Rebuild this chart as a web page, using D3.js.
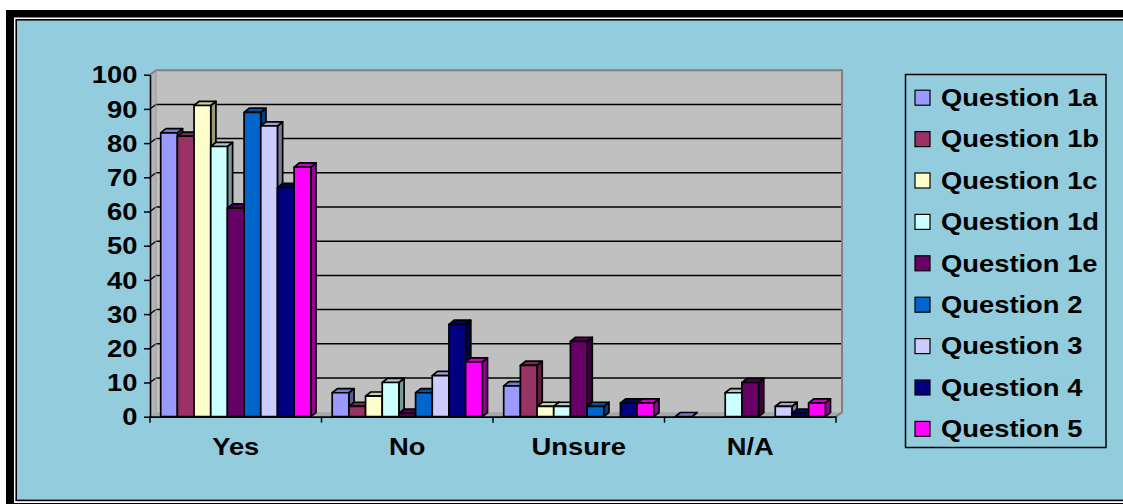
<!DOCTYPE html>
<html>
<head>
<meta charset="utf-8">
<script src="https://cdn.jsdelivr.net/npm/d3@7"></script>
<style>
  html, body { margin: 0; padding: 0; background: #ffffff; }
  svg { display: block; }
  text { font-family: "Liberation Sans", Arial, sans-serif; font-weight: bold; }
</style>
</head>
<body>
<svg id="chart" width="1123" height="504"></svg>
<script>
// Survey answers, percent of respondents per question
const categories = ["Yes", "No", "Unsure", "N/A"];
const seriesNames = ["Question 1a", "Question 1b", "Question 1c", "Question 1d",
                     "Question 1e", "Question 2", "Question 3", "Question 4", "Question 5"];
const q1a = [83, 7, 9, 0];
const q1b = [82, 3, 15, null];
const q1c = [91, 6, 3, null];
const q1d = [79, 10, 3, 7];
const q1e = [61, 1, 22, 10];
const q2  = [89, 7, 3, null];
const q3  = [85, 12, null, 3];
const q4  = [67, 27, 4, 1];
const q5  = [73, 16, 4, 4];
const seriesValues = [q1a, q1b, q1c, q1d, q1e, q2, q3, q4, q5];
const seriesColors = ["#9999FF", "#993366", "#FFFFCC", "#CCFFFF", "#660066",
                      "#0066CC", "#CCCCFF", "#000080", "#FF00FF"];
const yTicks = [0, 10, 20, 30, 40, 50, 60, 70, 80, 90, 100];

const svg = d3.select("#chart");
const BG = "#93CDDD";
const SX = 1.19;          // horizontal stretch of all lettering
const FS = 23;

// ---- frame with drop band ----
svg.append("rect").attr("x", 6).attr("y", 10).attr("width", 1200).attr("height", 600).attr("fill", "#000");
svg.append("rect").attr("x", 14).attr("y", 17.5).attr("width", 1200).attr("height", 485.5).attr("fill", "#fff");
svg.append("rect").attr("x", 16.2).attr("y", 19.8).attr("width", 1200).attr("height", 480.6)
   .attr("fill", BG).attr("stroke", "#000").attr("stroke-width", 1.6);

// ---- scales ----
const x0 = 150, x1 = 836, yBase = 416.7, yTop = 74.7;
const y = d3.scaleLinear().domain([0, 100]).range([yBase, yTop]);
const xCat = d3.scaleBand().domain(categories).range([x0, x1]).paddingInner(0).paddingOuter(0);
const xSer = d3.scaleBand().domain(seriesNames).range([10.7, xCat.bandwidth() - 10.7]).padding(0);

const wallDx = 6, wallDy = -4.5;   // back-wall offset
const barDx = 5.2, barDy = -4.2;   // column depth

// ---- walls and floor ----
const plot = svg.append("g");
// back wall
plot.append("rect")
  .attr("x", x0 + wallDx).attr("y", yTop + wallDy)
  .attr("width", x1 - x0).attr("height", yBase - yTop)
  .attr("fill", "#C0C0C0");
// side wall
plot.append("polygon")
  .attr("points", [[x0, yTop], [x0 + wallDx, yTop + wallDy], [x0 + wallDx, yBase + wallDy], [x0, yBase]].join(" "))
  .attr("fill", "#B4B4B4");
// floor
plot.append("polygon")
  .attr("points", [[x0, yBase], [x0 + wallDx, yBase + wallDy], [x1 + wallDx, yBase + wallDy], [x1, yBase]].join(" "))
  .attr("fill", "#A8A8A8");

// gridlines on back wall and side wall
const grid = plot.append("g");
yTicks.filter(t => t > 0 && t < 100).forEach(t => {
  grid.append("line")
    .attr("x1", x0 + wallDx).attr("x2", x1 + wallDx)
    .attr("y1", y(t) + wallDy).attr("y2", y(t) + wallDy)
    .attr("stroke", "#000").attr("stroke-width", 1.5);
  grid.append("line")
    .attr("x1", x0).attr("x2", x0 + wallDx)
    .attr("y1", y(t)).attr("y2", y(t) + wallDy)
    .attr("stroke", "#000").attr("stroke-width", 1.3);
});
// wall outline (top edge, right edge, far corner)
plot.append("path")
  .attr("d", `M${x0},${yTop} L${x0 + wallDx},${yTop + wallDy} L${x1 + wallDx},${yTop + wallDy} L${x1 + wallDx},${yBase + wallDy} L${x1},${yBase}`)
  .attr("fill", "none").attr("stroke", "#808080").attr("stroke-width", 2);
plot.append("line")
  .attr("x1", x0 + wallDx).attr("x2", x0 + wallDx)
  .attr("y1", yTop + wallDy).attr("y2", yBase + wallDy)
  .attr("stroke", "#9a9a9a").attr("stroke-width", 1);

// ---- y axis ----
const yAxis = svg.append("g")
  .attr("transform", `translate(${x0},0)`)
  .call(d3.axisLeft(y).tickValues(yTicks).tickSize(6).tickSizeOuter(0).tickPadding(0));
yAxis.select(".domain").attr("stroke", "#000").attr("stroke-width", 1.6);
yAxis.selectAll(".tick line").attr("stroke", "#000").attr("stroke-width", 1.5);
yAxis.selectAll(".tick text")
  .attr("x", null).attr("dy", null)
  .attr("transform", `translate(-12.5,8.2) scale(${SX},1)`)
  .attr("text-anchor", "end")
  .attr("font-size", FS)
  .attr("font-family", "'Liberation Sans', Arial, sans-serif")
  .attr("font-weight", "bold")
  .attr("fill", "#000");

// ---- x axis ----
const xAxis = svg.append("g")
  .attr("transform", `translate(0,${yBase})`)
  .call(d3.axisBottom(xCat).tickSize(0).tickSizeOuter(0).tickPadding(0));
xAxis.select(".domain").attr("stroke", "#000").attr("stroke-width", 1.8);
xAxis.selectAll(".tick text")
  .attr("y", null).attr("dy", null)
  .attr("transform", `translate(0,38.5) scale(${SX},1)`)
  .attr("text-anchor", "middle")
  .attr("font-size", FS)
  .attr("font-family", "'Liberation Sans', Arial, sans-serif")
  .attr("font-weight", "bold")
  .attr("fill", "#000");
// category boundary ticks
const bounds = categories.map(c => xCat(c)).concat([x1]);
xAxis.selectAll("line.bound").data(bounds).join("line")
  .attr("class", "bound")
  .attr("x1", d => d).attr("x2", d => d)
  .attr("y1", 0).attr("y2", 6)
  .attr("stroke", "#000").attr("stroke-width", 1.5);

// ---- 3-D columns ----
function shade(c, k) {
  const col = d3.rgb(c);
  return d3.rgb(col.r * k, col.g * k, col.b * k).formatHex();
}
const bars = svg.append("g");
categories.forEach((cat, ci) => {
  seriesNames.forEach((name, si) => {
    const v = seriesValues[si][ci];
    if (v === null || v === undefined) return;
    const bx = xCat(cat) + xSer(name);
    const w = xSer.bandwidth();
    const yt = y(v), yb = y(0);
    const g = bars.append("g")
      .attr("stroke", "#000").attr("stroke-width", 1.7).attr("stroke-linejoin", "round");
    g.append("polygon")
      .attr("points", [[bx + w, yt], [bx + w + barDx, yt + barDy], [bx + w + barDx, yb + barDy], [bx + w, yb]].join(" "))
      .attr("fill", shade(seriesColors[si], 0.6));
    g.append("polygon")
      .attr("points", [[bx, yt], [bx + w, yt], [bx + w + barDx, yt + barDy], [bx + barDx, yt + barDy]].join(" "))
      .attr("fill", shade(seriesColors[si], 0.8));
    if (v > 0) {
      g.append("rect")
        .attr("x", bx).attr("y", yt).attr("width", w).attr("height", yb - yt)
        .attr("fill", seriesColors[si]);
    }
  });
});

// ---- legend ----
const legend = svg.append("g");
legend.append("rect")
  .attr("x", 905.5).attr("y", 74.5).attr("width", 200.5).attr("height", 373)
  .attr("fill", "none").attr("stroke", "#000").attr("stroke-width", 1.5);
const rowY = i => 97.7 + i * 41.4;
const items = legend.selectAll("g.item").data(seriesNames).join("g").attr("class", "item");
items.append("rect")
  .attr("x", 915).attr("y", (d, i) => rowY(i) - 7.5)
  .attr("width", 15).attr("height", 15)
  .attr("fill", (d, i) => seriesColors[i])
  .attr("stroke", "#000").attr("stroke-width", 1.2);
items.append("text")
  .attr("transform", (d, i) => `translate(941,${rowY(i) + 8.2}) scale(${SX},1)`)
  .attr("font-size", FS)
  .attr("fill", "#000")
  .text(d => d);
</script>
</body>
</html>
